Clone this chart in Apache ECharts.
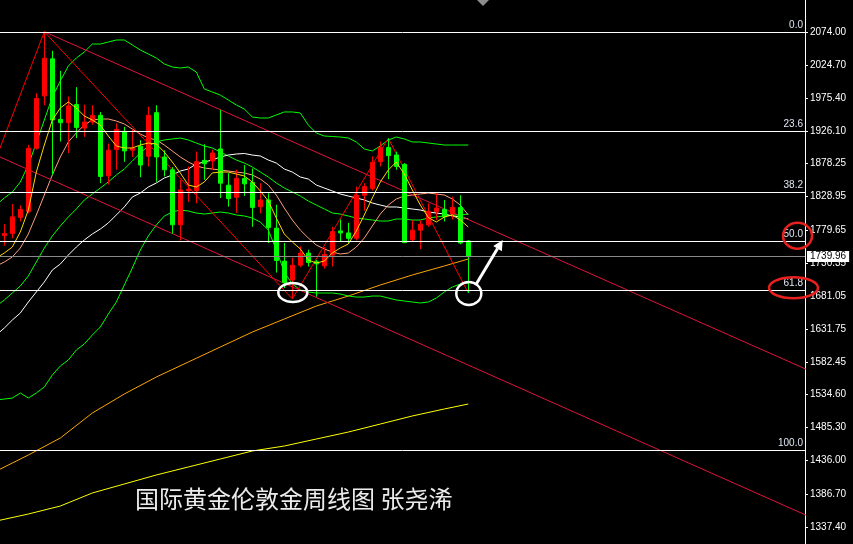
<!DOCTYPE html>
<html><head><meta charset="utf-8">
<script src="https://cdn.jsdelivr.net/npm/echarts@6/dist/echarts.min.js"></script>
<style>html,body{margin:0;padding:0;background:#000;}#c{width:853px;height:544px;}</style>
</head><body><div id="c"></div>
<script>
// ---- weekly candles (index 0..58) ----
const opens  = [1771,1774,1798,1807,1901,1979,2034,1944,1939,1966,1931,1940,1950,1860,1899,1926,1898,1904,1889,1954,1888,1869,1787,1838,1838,1883,1882,1900,1846,1828,1856,1850,1814,1824,1782,1733,1705,1727,1745,1732,1726,1742,1778,1775,1767,1831,1841,1881,1902,1891,1877,1765,1779,1787,1807,1810,1803,1813,1763];
const highs  = [1788,1818,1816,1906,1983,2074.4,2046,2016,1978,1992,1966,1965,1955,1908,1938,1933,1929,1913,1963,1965,1898,1873,1854,1874,1896,1907,1899,1958,1864,1869,1876,1871,1849,1834,1817,1760,1738,1755,1750,1735,1754,1784,1795,1790,1844,1849,1889,1911,1916,1896,1879,1794,1794,1819,1834,1824,1829,1831,1764.5];
const lows   = [1756,1767,1792,1804,1899,1965,1861,1911,1894,1916,1918,1936,1849,1847,1869,1881,1888,1858,1874,1851,1859,1774,1764,1821,1819,1854,1869,1827,1814,1805,1830,1784,1804,1760,1716,1693,1676.7,1724,1725,1680,1722,1725,1763,1760,1764,1808,1838,1874,1855,1869,1760,1763,1751,1784,1794,1792,1795,1758,1685.6];
const closes = [1774,1799,1810,1901,1975,2035,1943,1939,1964,1932,1940,1950,1859,1898,1929,1897,1901,1876,1950,1888,1869,1787,1839,1840,1881,1878,1894,1849,1826,1856,1848,1813,1824,1783,1734,1701,1727,1745,1731,1729,1743,1777,1775,1767,1831,1844,1880,1902,1890,1874,1760.5,1779,1788,1807,1812,1799,1813,1760,1739.96];

// ---- indicator lines, values at candle index -1..58 ----
const bbUpper = [1816.6,1827.0,1835.9,1850.8,1876.1,1908.8,1943.0,1977.3,2001.1,2023.4,2035.3,2044.2,2056.1,2056.1,2059.1,2062.1,2062.1,2054.7,2047.2,2041.3,2035.3,2026.4,2021.9,2020.4,2021.9,2014.5,1989.2,1984.7,1980.2,1972.8,1965.4,1959.4,1947.5,1946.0,1946.0,1950.5,1955.0,1955.0,1953.5,1935.6,1923.7,1919.2,1918.5,1917.7,1916.3,1910.3,1899.9,1896.9,1904.4,1913.3,1917.7,1914.8,1910.3,1910.3,1908.8,1907.3,1905.8,1905.8,1905.8,1905.8];
const bbMid = [1666.2,1675.2,1685.6,1696.0,1710.9,1731.7,1752.6,1770.4,1785.3,1798.7,1810.6,1824.0,1832.9,1841.8,1850.8,1861.2,1870.1,1882.0,1893.9,1904.3,1910.3,1913.3,1914.8,1916.2,1913.3,1908.8,1904.3,1901.4,1895.4,1889.5,1883.5,1879.0,1873.1,1865.6,1858.2,1849.3,1841.8,1835.9,1829.9,1822.5,1816.5,1810.6,1804.6,1803.1,1800.2,1797.2,1795.7,1794.2,1792.7,1792.7,1795.7,1795.7,1794.2,1794.2,1797.2,1798.7,1800.2,1801.7,1801.7,1803.1];
const bbLower = [1526.4,1527.8,1529.3,1536.8,1529.3,1536.8,1545.7,1563.6,1577.0,1585.9,1600.8,1609.7,1623.1,1635.0,1654.3,1672.2,1697.5,1722.8,1749.6,1770.4,1786.8,1800.2,1806.1,1809.1,1807.6,1804.6,1803.1,1804.6,1806.1,1804.6,1801.7,1800.2,1797.2,1791.2,1779.3,1749.6,1716.8,1699.0,1690.1,1687.1,1685.6,1685.6,1685.6,1684.1,1681.1,1679.6,1679.6,1681.1,1681.1,1678.1,1675.2,1673.7,1672.2,1670.7,1672.2,1678.1,1687.1,1694.5,1699.0,1700.5];
const maWhite = [1623.1,1633.5,1645.4,1655.8,1672.2,1687.1,1702.0,1719.8,1728.7,1742.1,1754.0,1764.5,1773.4,1780.8,1789.8,1801.7,1813.6,1828.4,1834.4,1843.3,1849.3,1856.7,1861.2,1867.1,1870.1,1877.6,1880.5,1883.5,1888.0,1890.9,1892.4,1893.2,1890.9,1889.5,1883.5,1879.0,1870.1,1865.6,1858.2,1855.2,1846.3,1841.8,1837.4,1832.9,1829.9,1827.0,1824.0,1819.5,1816.5,1813.6,1813.6,1812.1,1810.6,1809.1,1806.1,1804.6,1803.1,1800.2,1798.7,1795.7];
const maSalmon = [1725.8,1731.7,1739.2,1752.6,1773.4,1801.7,1831.4,1861.2,1888.0,1910.3,1923.7,1935.6,1943.0,1944.5,1944.5,1941.5,1937.1,1929.6,1922.2,1916.2,1913.3,1905.8,1896.9,1888.0,1880.5,1874.6,1871.6,1870.1,1868.6,1867.1,1865.6,1864.2,1861.2,1855.2,1846.3,1831.4,1812.1,1794.2,1779.3,1767.4,1757.0,1751.1,1746.6,1743.6,1745.1,1754.0,1767.4,1785.3,1803.1,1816.5,1825.5,1829.9,1831.4,1832.9,1834.4,1832.9,1831.4,1825.5,1816.5,1801.7];
const maFast = [1737.7,1745.1,1754.0,1776.4,1809.1,1865.6,1905.8,1943.0,1960.9,1969.8,1960.9,1949.0,1943.0,1935.6,1919.2,1904.3,1901.4,1901.4,1905.8,1908.8,1907.3,1895.4,1880.5,1864.2,1846.3,1843.3,1850.8,1864.2,1865.6,1865.6,1862.7,1859.7,1850.8,1837.4,1822.5,1797.2,1773.4,1761.5,1751.1,1734.7,1730.2,1733.2,1745.1,1752.6,1758.5,1777.8,1801.7,1827.0,1850.8,1868.6,1880.5,1862.7,1838.9,1816.5,1798.0,1791.2,1798.7,1801.7,1794.2,1783.8];
// slow averages, sampled at these candle indices
const slowIdx = [-1,3,7,11,15,19,23,27,31,35,39,43,47,51,55,58];
const ma100 = [1420.7,1444.5,1469.8,1507.0,1535.3,1560.6,1582.9,1605.2,1627.5,1646.9,1666.2,1681.1,1697.5,1712.4,1725.8,1736.2];
const ma200 = [1346.3,1356.7,1368.6,1388.0,1401.4,1414.8,1426.7,1438.6,1450.5,1457.9,1468.3,1478.7,1490.6,1502.6,1513.0,1520.4];

// ---- drawn objects ----
const channelUpper = [[5,2074.4],[101,1568.1]];
const channelLower = [[-1,1890.4],[101,1350.9]];
const zigzag = [[-1,1887],[5,2074.4],[36,1676.7],[48,1915.8],[58,1685.6]];
const fibLabels = ['0.0','23.6','38.2','50.0','61.8','100.0'];
const fibLevels = [2074.0,1927.0,1836.0,1762.5,1689.0,1451.0];
const lastPrice = 1739.96;

// ---- axis ----
const tickLabels = ['2074.00','2024.70','1975.40','1926.10','1878.25','1828.95','1779.65','1730.35','1681.05','1631.75','1582.45','1534.60','1485.30','1436.00','1386.70','1337.40'];
const tickValues = tickLabels.map(Number);
const yMin = 1312.1, yMax = 2121.6;
const xMin = -0.54, xMax = 100.09;
const title = '国际黄金伦敦金周线图 张尧浠';

const chart = echarts.init(document.getElementById('c'));
const withIdx = (arr) => arr.map((v, k) => [k - 1, v]);
const slow = (arr) => arr.map((v, k) => [slowIdx[k], v]);
const lineS = (data, color, z) => ({type:'line', data, showSymbol:false, silent:true, animation:false, z: z||2,
  lineStyle:{color, width:1}, clip:true});

chart.setOption({
  backgroundColor:'#000000',
  animation:false,
  grid:{left:0, right:48, top:0, bottom:0},
  xAxis:{type:'value', min:xMin, max:xMax, show:false},
  yAxis:{type:'value', position:'right', min:yMin, max:yMax, scale:true,
    axisLine:{show:true, onZero:false, lineStyle:{color:'#ffffff', width:1}},
    axisTick:{show:true, customValues:tickValues, length:3, lineStyle:{color:'#ffffff'}},
    axisLabel:{show:true, customValues:tickValues, formatter:(v)=>v.toFixed(2), color:'#ffffff', fontSize:10, fontFamily:'Liberation Sans', margin:5},
    splitLine:{show:false}},
  series:[
    {type:'line', data:[], silent:true,
      markLine:{silent:true, symbol:['none','none'], animation:false,
        lineStyle:{color:'#ffffff', width:1, type:'solid'},
        label:{show:true, position:'insideEndTop', color:'#dfe5f5', fontSize:10, fontFamily:'Liberation Sans', distance:2, formatter:(p)=>p.name},
        data: fibLevels.map((v,k)=>({name:fibLabels[k], yAxis:v}))}},
    {type:'line', data:[], silent:true,
      markLine:{silent:true, symbol:['none','none'], animation:false,
        lineStyle:{color:'#8a8a8a', width:1, type:'solid'},
        label:{show:true, position:'end', distance:2, formatter:lastPrice.toFixed(2), backgroundColor:'#ffffff', color:'#000000', fontSize:10, fontFamily:'Liberation Sans', padding:[1,3,0,3]},
        data:[{yAxis:lastPrice}]}},
    lineS(slow(ma200), '#ffff00'),
    lineS(slow(ma100), '#ffa500'),
    lineS(withIdx(bbUpper), '#00ff00'),
    lineS(withIdx(bbMid), '#00ff00'),
    lineS(withIdx(bbLower), '#00ff00'),
    lineS(withIdx(maWhite), '#ffffff'),
    lineS(withIdx(maSalmon), '#ffa07a'),
    lineS(withIdx(maFast), '#ffd700', 4),
    lineS(channelUpper, '#e0143c'),
    lineS(channelLower, '#e0143c'),
    lineS(zigzag, '#ff0000'),
    {type:'candlestick', silent:true, animation:false, z:3,
      data: opens.map((o,i)=>[i, o, closes[i], lows[i], highs[i]]),
      encode:{x:0, y:[1,2,3,4]},
      barWidth:4,
      itemStyle:{color:'#ff0000', color0:'#00ff00', borderColor:'#ff0000', borderColor0:'#00ff00', borderWidth:1}}
  ]
});

// annotations positioned from data coordinates
const px = (i, v) => chart.convertToPixel({xAxisIndex:0, yAxisIndex:0}, [i, v]);
const low1 = px(36, lows[36]);
const low2 = px(58, lows[58]);
const fib50 = px(0, fibLevels[3]);
const fib618 = px(0, fibLevels[4]);
const rightEdge = px(xMax, fibLevels[0])[0];
const tip = px(58 + 4.3, fibLevels[3] + 2);
const start = [low2[0] + 8, low2[1] - 9];
const dx = tip[0]-start[0], dy = tip[1]-start[1], L = Math.hypot(dx,dy);
const ux = dx/L, uy = dy/L;
const hb = [tip[0]-ux*10, tip[1]-uy*10];
const nx = -uy, ny = ux;

chart.setOption({graphic:[
  {type:'ellipse', shape:{cx:low1[0]+0.5, cy:low1[1]-6.5, rx:14.5, ry:9.5}, style:{fill:null, stroke:'#ffffff', lineWidth:2.5}, z:100},
  {type:'ellipse', shape:{cx:low2[0]+0.5, cy:low2[1]+0.5, rx:12.5, ry:11.5}, style:{fill:null, stroke:'#ffffff', lineWidth:2.5}, z:100},
  {type:'line', shape:{x1:start[0], y1:start[1], x2:hb[0], y2:hb[1]}, style:{stroke:'#ffffff', lineWidth:3}, z:100},
  {type:'polygon', shape:{points:[[tip[0],tip[1]],[hb[0]+nx*5,hb[1]+ny*5],[hb[0]-nx*5,hb[1]-ny*5]]}, style:{fill:'#ffffff'}, z:100},
  {type:'ellipse', shape:{cx:rightEdge-7.5, cy:fib50[1]-5.5, rx:14.5, ry:13}, style:{fill:null, stroke:'#e8201e', lineWidth:2.5}, z:100},
  {type:'ellipse', shape:{cx:rightEdge-11.5, cy:fib618[1]-3, rx:24.5, ry:10.5}, style:{fill:null, stroke:'#e8201e', lineWidth:2.5}, z:100},
  {type:'polygon', shape:{points:[[477,0],[489,0],[483,6]]}, style:{fill:'#8c8c8c'}, z:100},
  {type:'text', x:135, y:499, style:{text:title, fill:'#ebebeb', font:'24px "Noto Sans CJK SC"', verticalAlign:'middle', align:'left'}, z:100}
]});
</script>
</body></html>
